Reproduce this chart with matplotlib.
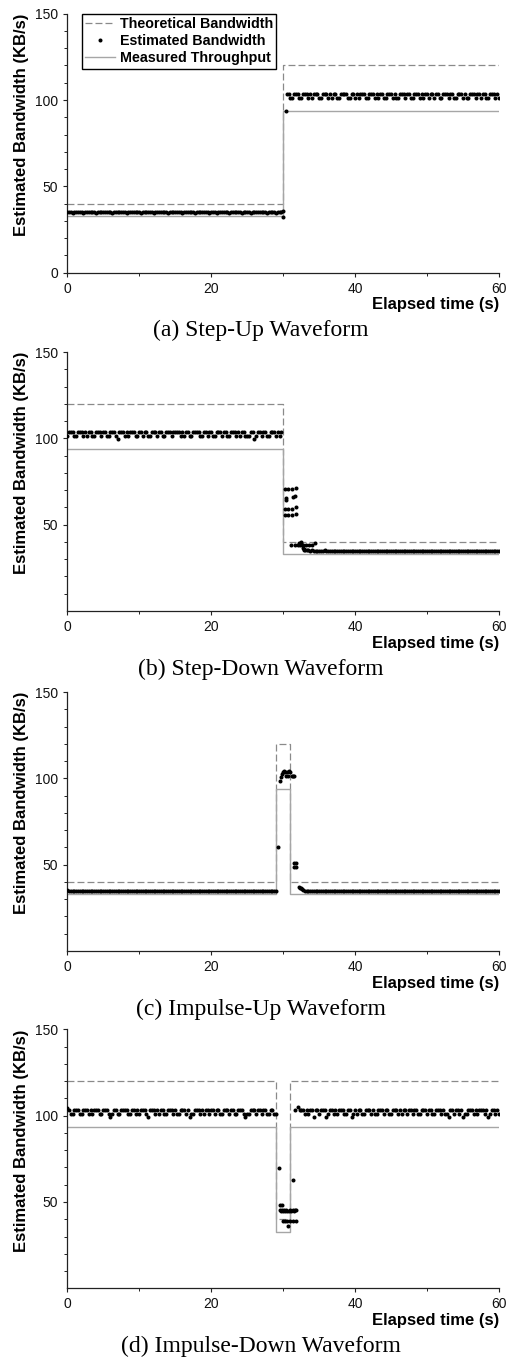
import numpy as np
import matplotlib
matplotlib.use("Agg")
import matplotlib.pyplot as plt
from matplotlib.ticker import FixedLocator

plt.rcParams['font.family'] = ['Liberation Sans', 'DejaVu Sans']
plt.rcParams['lines.scale_dashes'] = False

# ---------------- data ----------------
SAMPLE_DT = 0.25  # seconds between steady-state estimates
captions = ["(a) Step-Up Waveform", "(b) Step-Down Waveform",
            "(c) Impulse-Up Waveform", "(d) Impulse-Down Waveform"]
legend_labels = ["Theoretical Bandwidth", "Estimated Bandwidth", "Measured Throughput"]
x_major = [0, 20, 40, 60]
x_minor = [10, 30, 50]

# theoretical bandwidth (step breakpoints, value holds until next time)
a_theo_t = [0, 30, 60];          a_theo_v = [40, 120, 120]
b_theo_t = [0, 30, 60];          b_theo_v = [120, 40, 40]
c_theo_t = [0, 29, 31, 60];      c_theo_v = [40, 120, 40, 40]
d_theo_t = [0, 29, 31, 60];      d_theo_v = [120, 40, 120, 120]
# measured throughput
a_meas_t = [0, 30, 60];          a_meas_v = [33.0, 93.6, 93.6]
b_meas_t = [0, 30, 60];          b_meas_v = [93.6, 32.8, 32.8]
c_meas_t = [0, 29, 31, 60];      c_meas_v = [33.0, 93.6, 33.0, 33.0]
d_meas_t = [0, 29, 31, 60];      d_meas_v = [93.6, 32.6, 93.6, 93.6]

# ---- estimated bandwidth: panel (a) ----
a_seg1_start = 0.0
a_seg1_v = [35.0, 35.0, 35.0, 34.5, 35.0, 35.0, 35.0, 35.0, 35.0, 34.5, 35.0, 35.0, 35.0, 35.0, 35.0, 35.0, 34.5, 35.0, 35.0, 35.0,
            35.0, 35.0, 35.0, 35.0, 35.0, 34.5, 35.0, 35.0, 35.0, 35.0, 35.0, 35.0, 35.0, 34.5, 35.0, 35.0, 35.0, 35.0, 35.0, 35.0,
            35.0, 34.5, 35.0, 35.0, 35.0, 35.0, 35.0, 35.0, 34.5, 35.0, 35.0, 35.0, 35.0, 35.0, 35.0, 35.0, 34.5, 35.0, 35.0, 35.0,
            35.0, 35.0, 35.0, 35.0, 34.5, 35.0, 35.0, 35.0, 35.0, 35.0, 35.0, 34.5, 35.0, 35.0, 35.0, 35.0, 35.0, 35.0, 35.0, 34.5,
            35.0, 35.0, 35.0, 34.5, 35.0, 35.0, 35.0, 35.0, 35.0, 35.0, 34.5, 35.0, 35.0, 35.0, 35.0, 35.0, 35.0, 34.5, 35.0, 35.0,
            35.0, 35.0, 34.5, 35.0, 35.0, 35.0, 35.0, 35.0, 35.0, 35.0, 35.0, 34.5, 35.0, 35.0, 35.0, 35.0, 34.5, 35.0, 35.0, 35.0]
a_tr_t = [30.0, 30.0, 30.4]
a_tr_v = [35.8, 32.2, 93.8]
a_seg2_start = 30.5
a_seg2_v = [103.5, 103.5, 101.2, 101.2, 103.5, 103.5, 103.5, 101.2, 101.2, 103.5, 103.5, 103.5, 101.2, 103.5, 101.2, 103.5, 103.5, 103.5, 101.2, 101.2,
            103.5, 103.5, 103.5, 101.2, 103.5, 101.2, 103.5, 103.5, 101.2, 101.2, 103.5, 103.5, 103.5, 103.5, 101.2, 101.2, 103.5, 103.5, 101.2, 103.5,
            101.2, 103.5, 103.5, 103.5, 101.2, 101.2, 103.5, 103.5, 103.5, 101.2, 103.5, 101.2, 103.5, 103.5, 101.2, 101.2, 103.5, 103.5, 103.5, 101.2,
            103.5, 101.2, 101.2, 103.5, 103.5, 103.5, 101.2, 103.5, 103.5, 101.2, 101.2, 103.5, 103.5, 103.5, 101.2, 103.5, 101.2, 103.5, 103.5, 101.2,
            103.5, 103.5, 101.2, 103.5, 103.5, 101.2, 101.2, 103.5, 103.5, 103.5, 101.2, 103.5, 103.5, 101.2, 101.2, 103.5, 103.5, 103.5, 101.2, 103.5,
            101.2, 101.2, 103.5, 103.5, 103.5, 101.2, 103.5, 103.5, 101.2, 103.5, 103.5, 101.2, 101.2, 103.5, 103.5, 103.5, 101.2, 103.5, 101.2]

# ---- estimated bandwidth: panel (b) ----
b_seg1_start = 0.0
b_seg1_v = [101.2, 103.5, 103.5, 103.5, 101.2, 101.2, 103.5, 103.5, 103.5, 101.2, 103.5, 101.2, 103.5, 103.5, 101.2, 101.2, 103.5, 103.5, 103.5, 101.2,
            103.5, 103.5, 101.2, 101.2, 103.5, 103.5, 103.5, 101.2, 99.4, 103.5, 103.5, 103.5, 101.2, 103.5, 101.2, 103.5, 103.5, 103.5, 101.2, 101.2,
            103.5, 103.5, 101.2, 103.5, 103.5, 101.2, 101.2, 103.5, 103.5, 103.5, 101.2, 103.5, 103.5, 101.2, 101.2, 103.5, 103.5, 103.5, 101.2, 103.5,
            103.5, 103.5, 103.5, 101.2, 103.5, 101.2, 103.5, 103.5, 101.2, 101.2, 103.5, 103.5, 103.5, 103.5, 101.2, 101.2, 103.5, 103.5, 101.2, 103.5,
            103.5, 101.2, 101.2, 103.5, 103.5, 103.5, 101.2, 103.5, 103.5, 101.2, 101.2, 103.5, 103.5, 103.5, 101.2, 103.5, 101.2, 103.5, 103.5, 101.2,
            101.2, 101.2, 103.5, 103.5, 99.4, 101.2, 103.5, 103.5, 101.2, 103.5, 103.5, 101.2, 101.2, 103.5, 103.5, 103.5, 101.2, 103.5, 101.2, 103.5]
b_tr_t = [30.25, 30.7, 31.25, 31.85, 30.4, 30.45, 31.3, 31.7, 30.25, 30.7, 31.25, 31.85, 30.25, 30.7, 31.25, 31.85,
          31.1, 31.6, 32.0, 32.2, 32.35, 32.45, 32.5, 32.6, 32.8, 33.2, 33.6, 34.0, 34.4, 32.7, 32.85, 32.95]
b_tr_v = [70.5, 70.5, 70.5, 71.5, 64.5, 65.5, 66.0, 66.5, 59.2, 59.2, 59.2, 60.2, 55.4, 55.4, 55.4, 56.2,
          38.5, 38.5, 38.5, 39.5, 38.0, 40.0, 39.0, 38.5, 38.5, 38.5, 38.5, 38.5, 39.5, 36.5, 36.0, 35.5]
b_seg2_start = 33.0
b_seg2_v = [35.5, 35.3, 35.2, 35.0, 35.2, 34.8, 34.8, 35.0, 34.8, 34.8, 34.8, 35.2, 34.8, 34.8, 34.8, 34.8, 35.0, 34.8, 34.8, 34.8,
            34.8, 34.8, 35.0, 34.8, 34.8, 34.8, 34.8, 34.8, 35.0, 34.8, 34.8, 34.8, 34.8, 34.8, 34.8, 35.0, 34.8, 34.8, 34.8, 34.8,
            34.8, 35.0, 34.8, 34.8, 34.8, 34.8, 34.8, 34.8, 35.0, 34.8, 34.8, 34.8, 34.8, 34.8, 35.0, 34.8, 34.8, 34.8, 34.8, 34.8,
            34.8, 34.8, 34.8, 35.0, 34.8, 34.8, 34.8, 34.8, 34.8, 34.8, 35.0, 34.8, 34.8, 34.8, 34.8, 34.8, 34.8, 35.0, 34.8, 34.8,
            34.8, 34.8, 35.0, 34.8, 34.8, 34.8, 34.8, 34.8, 34.8, 35.0, 34.8, 34.8, 34.8, 34.8, 34.8, 35.0, 34.8, 34.8, 34.8, 34.8,
            34.8, 34.8, 35.0, 34.8, 34.8, 34.8, 34.8, 35.0, 34.8]

# ---- estimated bandwidth: panel (c) ----
c_seg1_start = 0.0
c_seg1_v = [35.3, 35.0, 35.0, 35.0, 34.6, 35.0, 35.0, 35.0, 35.0, 35.0, 34.6, 35.0, 35.0, 35.0, 35.0, 35.0, 35.0, 34.6, 35.0, 35.0,
            35.0, 35.0, 35.0, 34.6, 35.0, 35.0, 35.0, 35.0, 35.0, 35.0, 35.0, 34.6, 35.0, 35.0, 35.0, 35.0, 35.0, 35.0, 34.6, 35.0,
            35.0, 35.0, 34.6, 35.0, 35.0, 35.0, 35.0, 35.0, 35.0, 34.6, 35.0, 35.0, 35.0, 35.0, 35.0, 35.0, 35.0, 34.6, 35.0, 35.0,
            35.0, 34.6, 35.0, 35.0, 35.0, 35.0, 35.0, 35.0, 35.0, 34.6, 35.0, 35.0, 35.0, 35.0, 34.6, 35.0, 35.0, 35.0, 35.0, 35.0,
            35.0, 35.0, 35.0, 35.0, 34.6, 35.0, 35.0, 35.0, 35.0, 35.0, 35.0, 34.6, 35.0, 35.0, 35.0, 35.0, 35.0, 34.6, 35.0, 35.0,
            35.0, 35.0, 35.0, 34.6, 35.0, 35.0, 35.0, 35.0, 35.0, 35.0, 34.6, 35.0, 35.0, 35.0, 35.0, 35.0]
c_tr_t = [29.0, 29.33, 29.5, 29.65, 29.8, 29.95, 30.1, 30.25, 30.4, 30.55, 30.7, 30.85, 31.0, 31.2, 31.4, 31.55,
          31.55, 31.75, 31.55, 31.75, 32.15, 32.3, 32.45, 32.6, 32.8]
c_tr_v = [35.0, 60.0, 98.7, 100.6, 102.5, 103.5, 104.0, 103.5, 101.2, 103.8, 101.2, 104.2, 103.5, 101.5, 101.2, 101.5,
          51.0, 51.0, 48.6, 48.6, 36.8, 36.5, 36.3, 35.8, 35.5]
c_seg2_start = 33.0
c_seg2_v = [35.0, 35.0, 35.0, 34.6, 35.0, 35.0, 35.0, 35.0, 35.0, 35.0, 34.6, 35.0, 35.0, 35.0, 35.0, 35.0, 35.0, 35.0, 34.6, 35.0,
            35.0, 35.0, 35.0, 35.0, 34.6, 35.0, 35.0, 35.0, 35.0, 35.0, 35.0, 35.0, 34.6, 35.0, 35.0, 35.0, 35.0, 35.0, 35.0, 35.0,
            34.6, 35.0, 35.0, 35.0, 35.0, 35.0, 35.0, 34.6, 35.0, 35.0, 35.0, 35.0, 35.0, 35.0, 35.0, 34.6, 35.0, 35.0, 35.0, 35.0,
            35.0, 35.0, 34.6, 35.0, 35.0, 35.0, 35.0, 35.0, 35.0, 35.0, 34.6, 35.0, 35.0, 35.0, 35.0, 35.0, 34.6, 35.0, 35.0, 35.0,
            35.0, 35.0, 35.0, 34.6, 35.0, 35.0, 35.0, 35.0, 35.0, 35.0, 35.0, 34.6, 35.0, 35.0, 35.0, 35.0, 35.0, 35.0, 34.6, 35.0,
            35.0, 35.0, 35.0, 35.0, 34.6, 35.0, 35.0, 35.0, 35.0]

# ---- estimated bandwidth: panel (d) ----
d_seg1_start = 0.0
d_seg1_v = [104.5, 103.5, 101.2, 101.2, 103.5, 103.5, 103.5, 101.2, 101.2, 103.5, 103.5, 103.5, 101.2, 103.5, 101.2, 103.5, 103.5, 103.5, 101.2, 101.2,
            103.5, 103.5, 103.5, 101.2, 99.4, 101.2, 103.5, 103.5, 101.2, 101.2, 103.5, 103.5, 103.5, 103.5, 101.2, 101.2, 103.5, 103.5, 101.2, 103.5,
            101.2, 103.5, 103.5, 103.5, 101.2, 99.4, 103.5, 103.5, 103.5, 101.2, 103.5, 101.2, 103.5, 103.5, 101.2, 101.2, 103.5, 103.5, 103.5, 101.2,
            103.5, 101.2, 101.2, 103.5, 103.5, 103.5, 101.2, 103.5, 99.4, 101.2, 101.2, 103.5, 103.5, 103.5, 101.2, 103.5, 101.2, 103.5, 103.5, 101.2,
            103.5, 103.5, 101.2, 103.5, 103.5, 101.2, 101.2, 103.5, 103.5, 103.5, 101.2, 103.5, 103.5, 101.2, 101.2, 103.5, 103.5, 103.5, 101.2, 99.4,
            101.2, 101.2, 103.5, 103.5, 103.5, 101.2, 103.5, 103.5, 101.2, 103.5, 103.5, 101.2, 101.2, 103.5, 103.5, 101.2]
d_tr_t = [29.0, 29.45, 29.55, 29.9, 29.55, 29.7, 29.85, 30.0, 30.15, 30.3, 30.45, 30.6, 30.8, 30.95, 31.1, 31.3, 31.5, 31.7, 31.85,
          30.0, 30.3, 30.6, 31.0, 31.4, 31.75, 30.7, 31.3, 31.6, 32.1, 32.35]
d_tr_v = [101.2, 69.4, 48.0, 48.0, 45.2, 44.8, 45.2, 44.6, 45.2, 44.8, 45.4, 45.0, 44.6, 45.2, 45.0, 45.6, 44.8, 45.2, 45.6,
          38.8, 38.8, 38.8, 38.8, 38.8, 38.8, 35.8, 62.7, 103.2, 105.0, 103.5]
d_seg2_start = 32.5
d_seg2_v = [103.5, 103.5, 101.2, 103.5, 101.2, 103.5, 103.5, 99.4, 103.5, 103.5, 101.2, 103.5, 103.5, 103.5, 99.4, 101.2, 103.5, 103.5, 101.2, 103.5,
            101.2, 103.5, 103.5, 103.5, 101.2, 101.2, 103.5, 103.5, 99.4, 101.2, 103.5, 101.2, 103.5, 103.5, 101.2, 101.2, 103.5, 103.5, 103.5, 101.2,
            103.5, 101.2, 101.2, 103.5, 103.5, 103.5, 101.2, 103.5, 103.5, 101.2, 101.2, 103.5, 103.5, 103.5, 101.2, 103.5, 101.2, 103.5, 103.5, 101.2,
            103.5, 103.5, 101.2, 103.5, 103.5, 101.2, 101.2, 103.5, 103.5, 103.5, 101.2, 103.5, 103.5, 101.2, 101.2, 103.5, 103.5, 103.5, 101.2, 103.5,
            101.2, 101.2, 99.4, 103.5, 103.5, 101.2, 103.5, 103.5, 101.2, 103.5, 99.4, 101.2, 101.2, 103.5, 103.5, 103.5, 101.2, 103.5, 101.2, 103.5,
            103.5, 103.5, 101.2, 103.5, 99.4, 101.2, 103.5, 103.5, 101.2, 103.5, 101.2]


def est_series(seg1_start, seg1_v, tr_t, tr_v, seg2_start, seg2_v):
    t1 = seg1_start + SAMPLE_DT * np.arange(len(seg1_v))
    t2 = seg2_start + SAMPLE_DT * np.arange(len(seg2_v))
    t = np.concatenate([t1, np.asarray(tr_t, float), t2])
    v = np.concatenate([np.asarray(seg1_v, float), np.asarray(tr_v, float), np.asarray(seg2_v, float)])
    return t, v


panels = [
    (a_theo_t, a_theo_v, a_meas_t, a_meas_v,
     est_series(a_seg1_start, a_seg1_v, a_tr_t, a_tr_v, a_seg2_start, a_seg2_v)),
    (b_theo_t, b_theo_v, b_meas_t, b_meas_v,
     est_series(b_seg1_start, b_seg1_v, b_tr_t, b_tr_v, b_seg2_start, b_seg2_v)),
    (c_theo_t, c_theo_v, c_meas_t, c_meas_v,
     est_series(c_seg1_start, c_seg1_v, c_tr_t, c_tr_v, c_seg2_start, c_seg2_v)),
    (d_theo_t, d_theo_v, d_meas_t, d_meas_v,
     est_series(d_seg1_start, d_seg1_v, d_tr_t, d_tr_v, d_seg2_start, d_seg2_v)),
]

# ---------------- figure ----------------
W, H = 512, 1360
fig = plt.figure(figsize=(W / 100, H / 100), dpi=100)

ax_left_px, ax_right_px = 67.3, 499.0
ax_h_px = 259.0
ax_bottom_px = [272.7, 611.0, 951.0, 1288.3]

SPINE = '#222222'
THEO_C = '#8a8a8a'
MEAS_C = '#a6a6a6'

for i, (tt, tv, mt, mv, (et, ev)) in enumerate(panels):
    bpx = ax_bottom_px[i]
    ax = fig.add_axes([ax_left_px / W, 1 - bpx / H,
                       (ax_right_px - ax_left_px) / W, ax_h_px / H])
    ax.plot(tt, tv, drawstyle='steps-post', color=THEO_C, lw=0.9,
            ls=(0, (5, 2.2)), label=legend_labels[0], zorder=2)
    ax.plot(et, ev, 'o', ms=2.9, mew=0, color='black',
            label=legend_labels[1], zorder=4)
    ax.plot(mt, mv, drawstyle='steps-post', color=MEAS_C, lw=1.0,
            label=legend_labels[2], zorder=2)

    ax.set_xlim(0, 60)
    ax.set_ylim(0, 150)
    ax.xaxis.set_major_locator(FixedLocator(x_major))
    ax.xaxis.set_minor_locator(FixedLocator(x_minor))
    if i == 0:
        ax.yaxis.set_major_locator(FixedLocator([0, 50, 100, 150]))
    else:
        ax.yaxis.set_major_locator(FixedLocator([50, 100, 150]))
    ax.yaxis.set_minor_locator(FixedLocator([10, 20, 30, 40, 60, 70, 80, 90,
                                             110, 120, 130, 140]))
    for s in ('top', 'right'):
        ax.spines[s].set_visible(False)
    for s in ('left', 'bottom'):
        ax.spines[s].set_color(SPINE)
        ax.spines[s].set_linewidth(0.9)
    ax.tick_params(which='major', direction='out', length=3.0, width=0.8,
                   colors=SPINE, labelsize=10, pad=3.5, labelcolor='#111111')
    ax.tick_params(which='minor', direction='out', length=2.0, width=0.7,
                   colors=SPINE)

    ax.set_ylabel('Estimated Bandwidth (KB/s)', fontsize=12, fontweight='bold',
                  ha='right')
    ax.yaxis.set_label_coords(-0.088, 1.0)
    ax.set_xlabel('Elapsed time (s)', fontsize=12, fontweight='bold',
                  ha='right', va='top')
    ax.xaxis.set_label_coords(1.0, -0.095)

    fig.text(0.51, 1 - (bpx + 58) / H, captions[i], family='Liberation Serif',
             fontsize=17, ha='center', va='center')

    if i == 0:
        leg = ax.legend(loc='upper left', bbox_to_anchor=(0.0334, 1.0),
                        borderaxespad=0, prop={'weight': 'bold', 'size': 10.3},
                        handlelength=2.1, handletextpad=0.3, borderpad=0.25,
                        labelspacing=0.2, numpoints=1, fancybox=False,
                        framealpha=1, edgecolor='black')
        leg.get_frame().set_linewidth(1.0)

fig.savefig('out.png', dpi=100)
